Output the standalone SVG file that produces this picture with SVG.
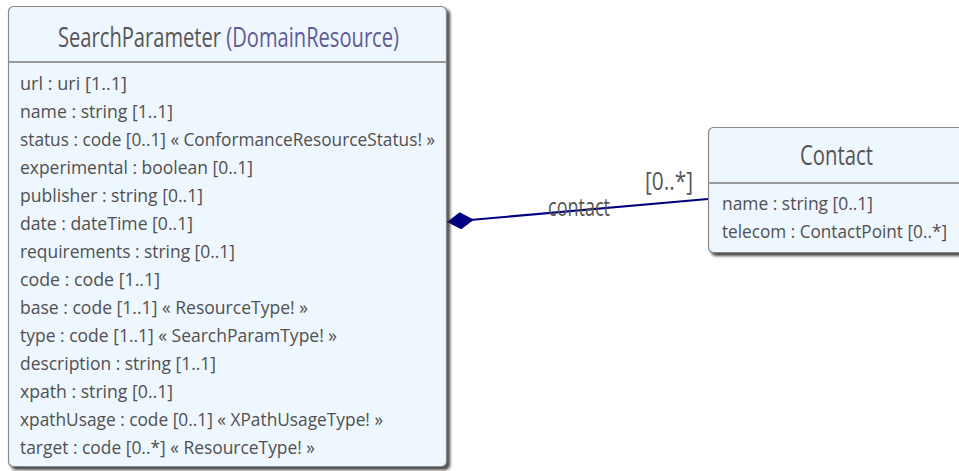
<svg xmlns="http://www.w3.org/2000/svg" width="959" height="471" viewBox="0 0 959 471">
  <style>
    .box { fill: #eef6fe; stroke: #8a8a8a; stroke-width: 1.2; filter: url(#shadow); }
    .sep { stroke: #9a9a9a; stroke-width: 2; }
    .title { font-family: "Open Sans", "Noto Sans", sans-serif; font-size: 28px; fill: #555555; }
    .parent { fill: #5f5a96; }
    .attr { font-family: "Open Sans", "Noto Sans", sans-serif; font-size: 19px; fill: #505050; }
    .lbl { font-family: "Open Sans", "Noto Sans", sans-serif; font-size: 25px; fill: #555555; }
    .assoc { stroke: #000080; stroke-width: 2; fill: none; }
  </style>
  <defs>
    <filter id="shadow" x="-5%" y="-5%" width="115%" height="115%">
      <feDropShadow dx="3" dy="3" stdDeviation="1.5" flood-color="#2a2a2a" flood-opacity="0.85"/>
    </filter>
    <marker id="diamond" viewBox="0 0 27 17" refX="0" refY="8.5" markerWidth="27" markerHeight="17" markerUnits="userSpaceOnUse" orient="auto">
      <path d="M0,8.5 L13.5,0 L27,8.5 L13.5,17 Z" fill="#000080"/>
    </marker>
  </defs>

  <rect width="959" height="471" fill="#ffffff"/>

  <!-- connectors -->
  <g id="connectors">
    <path class="assoc" d="M447,222 L708,199" marker-start="url(#diamond)"/>
    <text class="lbl" x="548" y="216" textLength="62" lengthAdjust="spacingAndGlyphs">contact</text>
    <text class="lbl" x="645" y="190" textLength="48" lengthAdjust="spacingAndGlyphs">[0..*]</text>
  </g>

  <!-- SearchParameter class -->
  <g id="SearchParameter">
    <rect class="box" x="8.5" y="6.5" width="438" height="460" rx="5"/>
    <line class="sep" x1="9" y1="62" x2="446" y2="62"/>
    <text class="title" x="58" y="47" textLength="341" lengthAdjust="spacingAndGlyphs">SearchParameter <tspan class="parent">(DomainResource)</tspan></text>
    <text class="attr" x="20" y="90" textLength="107" lengthAdjust="spacingAndGlyphs">url : uri [1..1]</text>
    <text class="attr" x="20" y="118" textLength="153" lengthAdjust="spacingAndGlyphs">name : string [1..1]</text>
    <text class="attr" x="20" y="146" textLength="415" lengthAdjust="spacingAndGlyphs">status : code [0..1] « ConformanceResourceStatus! »</text>
    <text class="attr" x="20" y="174" textLength="233" lengthAdjust="spacingAndGlyphs">experimental : boolean [0..1]</text>
    <text class="attr" x="20" y="202" textLength="183" lengthAdjust="spacingAndGlyphs">publisher : string [0..1]</text>
    <text class="attr" x="20" y="230" textLength="173" lengthAdjust="spacingAndGlyphs">date : dateTime [0..1]</text>
    <text class="attr" x="20" y="258" textLength="215" lengthAdjust="spacingAndGlyphs">requirements : string [0..1]</text>
    <text class="attr" x="20" y="286" textLength="140" lengthAdjust="spacingAndGlyphs">code : code [1..1]</text>
    <text class="attr" x="20" y="314" textLength="288" lengthAdjust="spacingAndGlyphs">base : code [1..1] « ResourceType! »</text>
    <text class="attr" x="20" y="342" textLength="317" lengthAdjust="spacingAndGlyphs">type : code [1..1] « SearchParamType! »</text>
    <text class="attr" x="20" y="370" textLength="196" lengthAdjust="spacingAndGlyphs">description : string [1..1]</text>
    <text class="attr" x="20" y="398" textLength="153" lengthAdjust="spacingAndGlyphs">xpath : string [0..1]</text>
    <text class="attr" x="20" y="426" textLength="363" lengthAdjust="spacingAndGlyphs">xpathUsage : code [0..1] « XPathUsageType! »</text>
    <text class="attr" x="20" y="454" textLength="295" lengthAdjust="spacingAndGlyphs">target : code [0..*] « ResourceType! »</text>
  </g>

  <!-- Contact class -->
  <g id="Contact">
    <rect class="box" x="708.5" y="127.5" width="262" height="125" rx="5"/>
    <line class="sep" x1="709" y1="183" x2="959" y2="183"/>
    <text class="title" x="800" y="165" textLength="73" lengthAdjust="spacingAndGlyphs">Contact</text>
    <text class="attr" x="722" y="210" textLength="151" lengthAdjust="spacingAndGlyphs">name : string [0..1]</text>
    <text class="attr" x="722" y="238" textLength="225" lengthAdjust="spacingAndGlyphs">telecom : ContactPoint [0..*]</text>
  </g>
</svg>
